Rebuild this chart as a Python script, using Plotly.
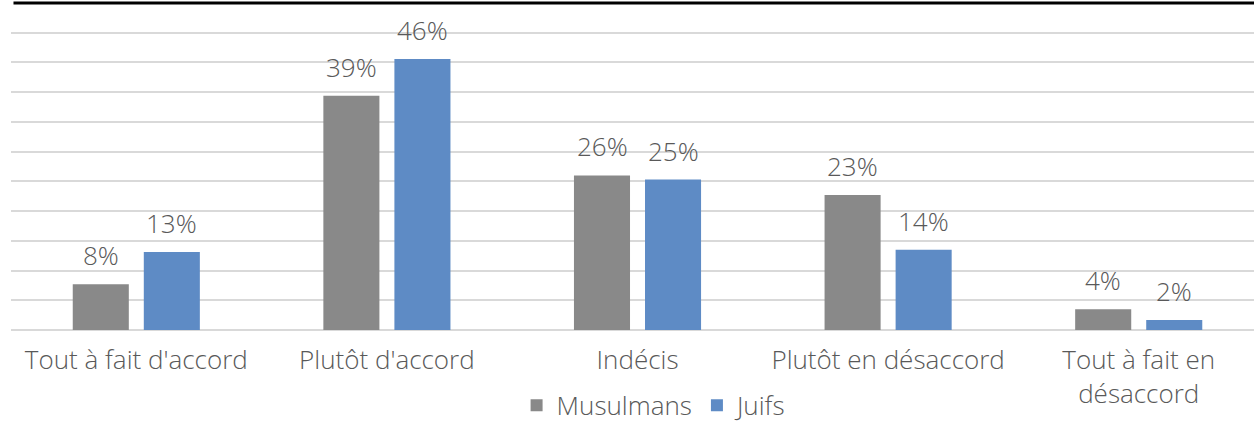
import plotly.graph_objects as go

categories = ["Tout à fait d'accord", "Plutôt d'accord", "Indécis", "Plutôt en désaccord", "Tout à fait en désaccord"]
tick_labels = ["Tout à fait d'accord", "Plutôt d'accord", "Indécis", "Plutôt en désaccord", "Tout à fait en<br>désaccord"]
musulmans = [7.7, 39.4, 26.0, 22.7, 3.5]
juifs = [13.1, 45.6, 25.3, 13.5, 1.7]
musulmans_labels = ["8%", "39%", "26%", "23%", "4%"]
juifs_labels = ["13%", "46%", "25%", "14%", "2%"]

FONT = "Open Sans"
TXT = "#595959"
GRAY = "#898989"
BLUE = "#5e8bc5"
FS = 26
FW = 300

fig = go.Figure()
fig.add_trace(go.Bar(name="Musulmans", x=categories, y=musulmans, marker=dict(color=GRAY, line=dict(width=0))))
fig.add_trace(go.Bar(name="Juifs", x=categories, y=juifs, marker=dict(color=BLUE, line=dict(width=0))))

for vals, labs, shift in [(musulmans, musulmans_labels, -35.5), (juifs, juifs_labels, 35.5)]:
    for c, v, t in zip(categories, vals, labs):
        fig.add_annotation(x=c, y=v, text=t, showarrow=False, xshift=shift, yshift=9,
                           yanchor="bottom", font=dict(family=FONT, size=FS, color=TXT, weight=FW))

fig.add_shape(type="line", xref="paper", yref="paper", x0=0.002, x1=1, y0=1, y1=1,
              line=dict(color="black", width=3))

fig.update_layout(
    width=1254, height=423,
    margin=dict(l=11, r=0, t=3, b=93, autoexpand=False),
    paper_bgcolor="white", plot_bgcolor="white",
    barmode="group", bargap=0.433, bargroupgap=0.211,
    font=dict(family=FONT, size=FS, color=TXT, weight=FW),
    showlegend=True,
    legend=dict(orientation="h", xref="container", yref="container", x=0.522, xanchor="center",
                y=0.042, yanchor="middle",
                font=dict(family=FONT, size=FS, color=TXT, weight=FW), itemwidth=30, tracegroupgap=0),
    xaxis=dict(range=[-0.5, 4.46], tickmode="array", tickvals=categories, ticktext=tick_labels,
               showgrid=False, showline=False, ticks="", automargin=False, ticklabelstandoff=12,
               tickfont=dict(family=FONT, size=FS, color=TXT, weight=FW)),
    yaxis=dict(range=[0, 55], dtick=5, showticklabels=False, showgrid=True, gridcolor="#d9d9d9", gridwidth=1.5,
               zeroline=True, zerolinecolor="#d9d9d9", zerolinewidth=1.5, showline=False, ticks="",
               automargin=False),
)

fig.write_html("out.html", config={"displayModeBar": False},
               post_script="document.body.style.margin='0';")
